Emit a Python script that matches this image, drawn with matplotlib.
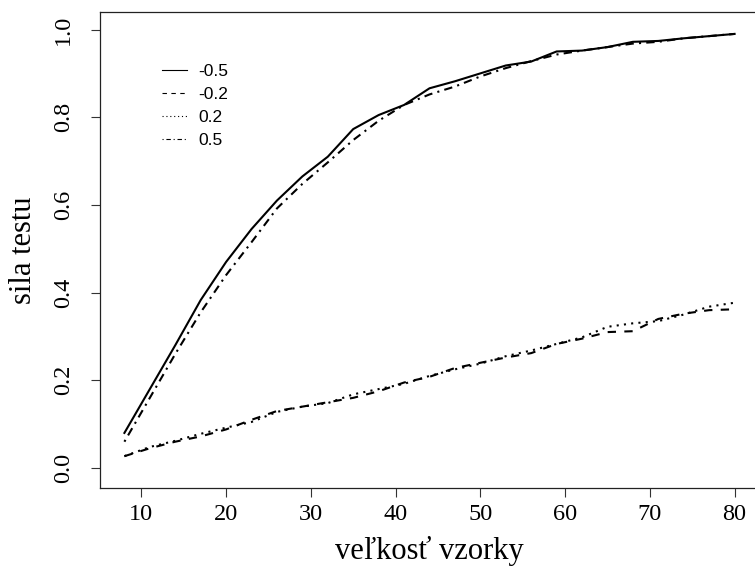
import matplotlib
matplotlib.use("Agg")
import matplotlib.pyplot as plt
from matplotlib.lines import Line2D

# sample sizes
n = [8, 11, 14, 17, 20, 23, 26, 29, 32, 35, 38, 41, 44, 47, 50,
     53, 56, 59, 62, 65, 68, 71, 74, 77, 80]

# estimated power for each correlation value
power_m05 = [0.080, 0.180, 0.280, 0.383, 0.470, 0.545, 0.610, 0.665, 0.710, 0.773,
             0.805, 0.828, 0.866, 0.882, 0.900, 0.918, 0.927, 0.950, 0.952, 0.960,
             0.972, 0.974, 0.980, 0.985, 0.990]
power_m02 = [0.027, 0.045, 0.060, 0.072, 0.088, 0.110, 0.130, 0.140, 0.150, 0.160,
             0.175, 0.195, 0.208, 0.228, 0.240, 0.252, 0.262, 0.283, 0.295, 0.310,
             0.312, 0.340, 0.352, 0.360, 0.362]
power_p02 = [0.027, 0.048, 0.062, 0.078, 0.092, 0.105, 0.128, 0.140, 0.148, 0.168,
             0.180, 0.192, 0.210, 0.225, 0.238, 0.255, 0.268, 0.283, 0.298, 0.322,
             0.330, 0.335, 0.350, 0.368, 0.377]
power_p05 = [0.060, 0.160, 0.260, 0.355, 0.440, 0.515, 0.592, 0.648, 0.697, 0.748,
             0.792, 0.828, 0.852, 0.870, 0.893, 0.912, 0.928, 0.943, 0.952, 0.960,
             0.968, 0.972, 0.980, 0.985, 0.990]

labels = ["-0.5", "-0.2", "0.2", "0.5"]
x_ticks = [10, 20, 30, 40, 50, 60, 70, 80]
y_ticks = [0.0, 0.2, 0.4, 0.6, 0.8, 1.0]

W, H = 755, 576
fig = plt.figure(figsize=(W / 100, H / 100), dpi=100)
left, right, top, bottom = 100, 759, 12, 488
ax = fig.add_axes([left / W, 1 - bottom / H, (right - left) / W, (bottom - top) / H])

styles = [
    dict(linestyle="-"),
    dict(linestyle=(0, (4, 4))),
    dict(linestyle=(0, (1, 2.5))),
    dict(linestyle=(0, (1, 2.5, 4, 2.5))),
]
series = [power_m05, power_m02, power_p02, power_p05]
for vals, st in zip(series, styles):
    ax.plot(n, vals, color="black", linewidth=1.5, solid_joinstyle="miter",
            dash_capstyle="butt", **st)

# axis limits with the usual 4% padding around the data range
ax.set_xlim(5.12, 82.88)
ax.set_ylim(-0.0456, 1.040)

serif = "Liberation Serif"
ax.set_xticks(x_ticks)
ax.set_xticklabels([str(t) for t in x_ticks], fontfamily=serif, fontsize=17.5)
ax.set_yticks(y_ticks)
ax.set_yticklabels([f"{t:.1f}" for t in y_ticks], fontfamily=serif, fontsize=17.5,
                   rotation=90, va="center")
ax.tick_params(axis="both", direction="out", length=6.5, width=0.8, color="#333333")
ax.tick_params(axis="x", pad=5)
ax.tick_params(axis="y", pad=12)
for sp in ax.spines.values():
    sp.set_linewidth(0.9)
    sp.set_color("#222222")
ax.spines["right"].set_visible(False)

ax.set_xlabel("veľkosť vzorky", fontfamily=serif, fontsize=22, labelpad=8)
ax.set_ylabel("sila testu", fontfamily=serif, fontsize=22, labelpad=11)

handles = [Line2D([], [], color="black", linewidth=0.8, dash_capstyle="butt", **st)
           for st in styles]
ax.legend(handles, labels, loc="upper left",
          bbox_to_anchor=(162 / W, 1 - 64 / H), bbox_transform=fig.transFigure,
          frameon=False, borderpad=0, borderaxespad=0,
          handlelength=1.45, handletextpad=0.65, labelspacing=0.45,
          prop={"family": "Liberation Sans", "size": 12.5})

fig.savefig("out.png", dpi=100)
